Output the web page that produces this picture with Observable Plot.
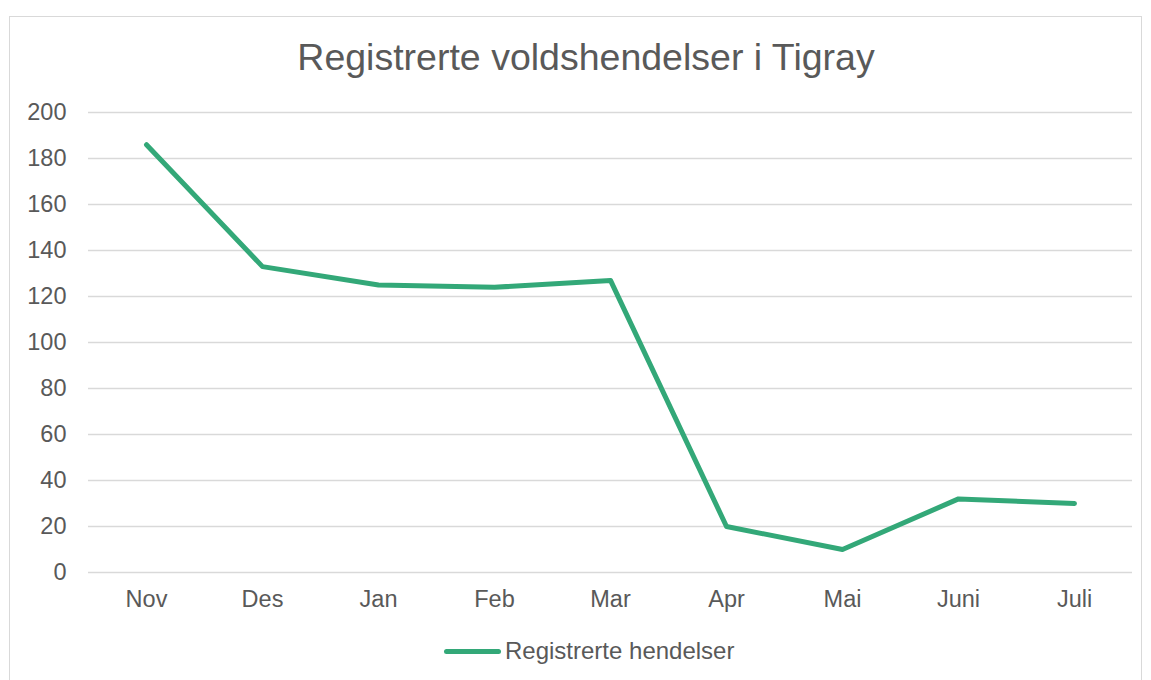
<!DOCTYPE html>
<html>
<head>
<meta charset="utf-8">
<script src="https://cdn.jsdelivr.net/npm/d3@7"></script>
<script src="https://cdn.jsdelivr.net/npm/@observablehq/plot@0.6"></script>
<style>
  html, body { margin: 0; padding: 0; background: #fff; }
  #wrap { position: relative; width: 1151px; height: 680px; overflow: hidden; font-family: "Liberation Sans", Arial, sans-serif; color: #595959; }
  #frame { position: absolute; left: 9px; top: 16px; width: 1133px; height: 680px; border: 1.5px solid #d9d9d9; box-sizing: border-box; }
  #title { position: absolute; left: 0; width: 1172px; top: 37px; text-align: center; font-size: 37.5px; line-height: 40px; color: #595959; }
  #plot { position: absolute; left: 0; top: 0; }
  #legend { position: absolute; top: 636px; left: 444px; display: flex; align-items: center; font-size: 24px; line-height: 30px; color: #595959; }
  #legend .sw { width: 57px; height: 5px; border-radius: 3px; margin-right: 4px; }
</style>
</head>
<body>
<div id="wrap">
  <div id="frame"></div>
  <div id="title"></div>
  <div id="plot"></div>
  <div id="legend"><div class="sw"></div><span></span></div>
</div>
<script>
const months = ["Nov", "Des", "Jan", "Feb", "Mar", "Apr", "Mai", "Juni", "Juli"];
const events = [186, 133, 125, 124, 127, 20, 10, 32, 30];
const yTicks = [0, 20, 40, 60, 80, 100, 120, 140, 160, 180, 200];
const titleText = "Registrerte voldshendelser i Tigray";
const seriesName = "Registrerte hendelser";
const lineColor = "#33a878";

const data = months.map((m, i) => ({month: m, value: events[i]}));

document.getElementById("title").textContent = titleText;
document.querySelector("#legend span").textContent = seriesName;
document.querySelector("#legend .sw").style.background = lineColor;

const chart = Plot.plot({
  width: 1151,
  height: 640,
  marginLeft: 88,
  marginRight: 19,
  marginTop: 112,
  marginBottom: 68,
  style: {fontFamily: "'Liberation Sans', Arial, sans-serif", fontSize: "23.5px", color: "#595959", background: "transparent"},
  x: {type: "point", domain: months, padding: 0.5, label: null},
  y: {domain: [0, 200], label: null},
  marks: [
    Plot.gridY(yTicks, {stroke: "#d9d9d9", strokeOpacity: 1, strokeWidth: 1.5}),
    Plot.axisY(yTicks, {tickSize: 0, tickPadding: 22, label: null, fill: "#595959"}),
    Plot.axisX({tickSize: 0, tickPadding: 18, label: null, fill: "#595959"}),
    Plot.line(data, {x: "month", y: "value", stroke: lineColor, strokeWidth: 5, strokeLinecap: "round", strokeLinejoin: "round"})
  ]
});
document.getElementById("plot").appendChild(chart);
</script>
</body>
</html>
